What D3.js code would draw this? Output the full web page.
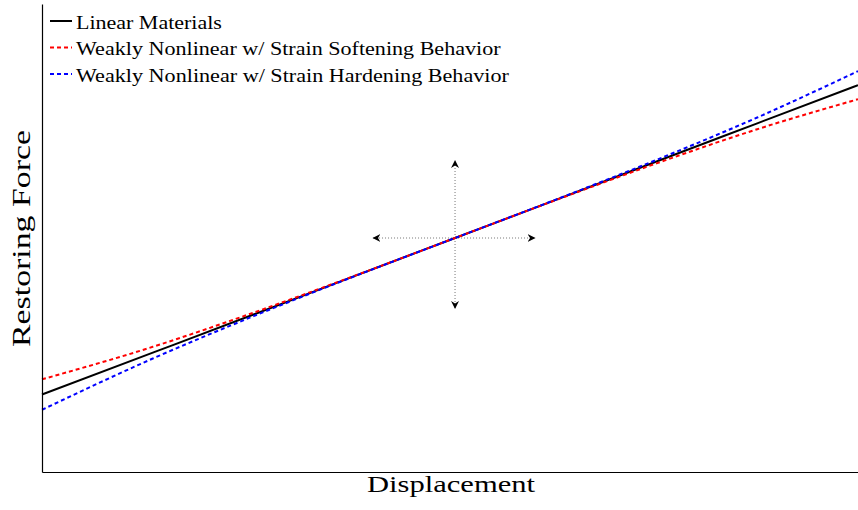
<!DOCTYPE html>
<html><head><meta charset="utf-8">
<script src="https://cdn.jsdelivr.net/npm/d3@7"></script>
<style>body{margin:0;background:#fff}svg{display:block}</style>
</head><body><svg id="c" width="858" height="510"></svg>
<script>
// Data
const displacement = [-1.025, -0.75, -0.5, -0.25, 0, 0.25, 0.5, 0.75, 1.0];
const linearForce  = [-0.669, -0.490, -0.327, -0.163, 0, 0.163, 0.327, 0.490, 0.653];
const softeningForce = [-0.604, -0.465, -0.319, -0.162, 0, 0.162, 0.319, 0.465, 0.593];
const hardeningForce = [-0.734, -0.515, -0.334, -0.164, 0, 0.164, 0.334, 0.515, 0.713];
const seriesNames = ["Linear Materials","Weakly Nonlinear w/ Strain Softening Behavior","Weakly Nonlinear w/ Strain Hardening Behavior"];
const seriesColors = ["#000000","#ff0000","#0000ff"];
const seriesDash = [null,"4,3","4,3"];
const legendWidths = [146, 425, 433];
const arrowX = [-0.203, 0.198];
const arrowY = [-0.30, 0.33];

const SERIF = '"Liberation Serif","Times New Roman",serif';
const svg = d3.select("#c");
const L=42, R=858, T=4, B=472;
const x = d3.scaleLinear().domain([-1.025, 1.0]).range([L, R]);
const y = d3.scaleLinear().domain([-1, 1]).range([B, T]);

const defs = svg.append("defs");
defs.append("marker").attr("id","ah").attr("viewBox","0 0 10 10").attr("refX",9).attr("refY",5)
  .attr("markerWidth",8).attr("markerHeight",8).attr("markerUnits","userSpaceOnUse").attr("orient","auto")
  .append("path").attr("d","M0,0 L10,5 L0,10 L3,5 Z").attr("fill","#000");

// center arrows
const ag = svg.append("g");
const arrows = [[arrowX[0],0],[arrowX[1],0],[0,arrowY[0]],[0,arrowY[1]]];
arrows.forEach(a=>{
  ag.append("line").attr("x1",x(0)).attr("x2",x(a[0])).attr("y1",y(0)).attr("y2",y(a[1]))
    .attr("stroke","#777").attr("stroke-width",1).attr("stroke-dasharray","1,2").attr("marker-end","url(#ah)");
});

const line = d3.line().x(d=>x(d[0])).y(d=>y(d[1])).curve(d3.curveMonotoneX);
const all = [linearForce, softeningForce, hardeningForce];
all.forEach((ys,i)=>{
  svg.append("path").datum(displacement.map((d,j)=>[d,ys[j]]))
    .attr("d",line).attr("fill","none").attr("stroke",seriesColors[i]).attr("stroke-width",2)
    .attr("stroke-dasharray",seriesDash[i]);
});

// axes frame (no ticks)
svg.append("g").attr("transform",`translate(0,${B})`).call(d3.axisBottom(x).tickValues([]).tickSizeOuter(0))
  .select(".domain").attr("stroke","#000").attr("stroke-width",1.2);
svg.append("g").attr("transform",`translate(${L},0)`).call(d3.axisLeft(y).tickValues([]).tickSizeOuter(0))
  .select(".domain").attr("stroke","#000").attr("stroke-width",1.2);

// stretched text helper: base transform + horizontal scale to hit target width
function stretchText(base, str, size, target, anchor){
  const t = svg.append("text").attr("text-anchor",anchor).style("font-family",SERIF)
    .style("font-size",size+"px").attr("fill","#000").text(str);
  const w = t.node().getComputedTextLength();
  t.attr("transform", base + ` scale(${target/w},1)`);
  return t;
}

// legend
seriesNames.forEach((n,i)=>{
  const yy = 21 + i*26.5;
  svg.append("line").attr("x1",50).attr("x2",72).attr("y1",yy).attr("y2",yy)
    .attr("stroke",seriesColors[i]).attr("stroke-width",2).attr("stroke-dasharray",seriesDash[i]);
  stretchText(`translate(76,${yy+7.5})`, n, 19.5, legendWidths[i], "start");
});

stretchText("translate(451,492)", "Displacement", 22.5, 168, "middle");
stretchText("translate(30,238.5) rotate(-90)", "Restoring Force", 25, 217, "middle");
</script></body></html>
